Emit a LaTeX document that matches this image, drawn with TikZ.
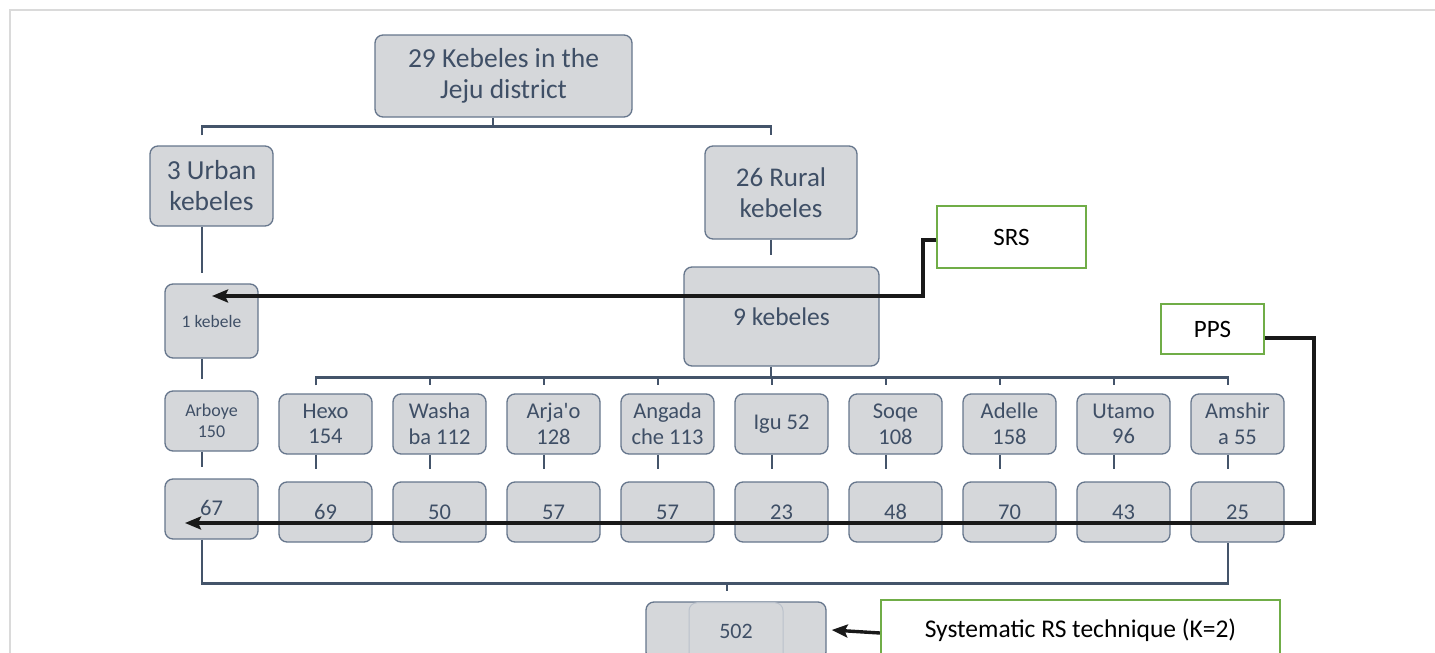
\documentclass[tikz,border=0pt]{standalone}
\usepackage{fontspec}
\setmainfont{Carlito}[Ligatures=TeXOff]
\usetikzlibrary{arrows.meta}
\definecolor{txt}{HTML}{3F4F66}
\definecolor{boxfill}{HTML}{D5D7DA}
\definecolor{boxline}{HTML}{66768C}
\definecolor{conn}{HTML}{44546A}
\definecolor{grn}{HTML}{70AD47}
\definecolor{framec}{HTML}{DADADA}
\tikzset{
  gbox/.style={draw=boxline, fill=boxfill, rounded corners=8pt, line width=1.3pt,
    text=txt, align=center, inner sep=0pt},
  greenbox/.style={draw=grn, fill=white, line width=2.2pt, text=black, align=center, inner sep=0pt},
  conline/.style={draw=conn, line width=2.6pt},
  arr/.style={draw=black!90, line width=3.4pt, -{Stealth[length=16pt,width=13pt,inset=3pt]}},
  bigtxt/.style={font=\fontsize{27.5}{31}\selectfont},
  midtxt/.style={font=\fontsize{22.5}{25.7}\selectfont},
}
\begin{document}
\begin{tikzpicture}[x=1pt,y=-1pt]
\useasboundingbox (0,0) rectangle (1435,653);
\draw[framec, line width=2pt] (10,653) -- (10,10) -- (1435,10);

% level 1-3
\node[gbox,bigtxt,minimum width=257pt,minimum height=82pt] (top) at (503.5,76) {29 Kebeles in the\\Jeju district};
\node[gbox,bigtxt,minimum width=123pt,minimum height=80pt] (urban) at (211.5,186) {3 Urban\\kebeles};
\node[gbox,font=\fontsize{27}{31}\selectfont,minimum width=152pt,minimum height=93pt] (rural) at (781,192.5) {26 Rural\\kebeles};
\node[gbox,font=\fontsize{25.5}{30}\selectfont,minimum width=195pt,minimum height=99pt] (nine) at (781.5,316.5) {9 kebeles};
\node[gbox,font=\fontsize{17.5}{21}\selectfont,minimum width=93pt,minimum height=74pt] (one) at (211.5,321) {1 kebele};

\node[greenbox,font=\fontsize{25}{30}\selectfont,minimum width=149pt,minimum height=62pt] (srs) at (1011.5,237) {SRS};
\node[greenbox,font=\fontsize{25}{30}\selectfont,minimum width=103pt,minimum height=50pt] (pps) at (1212.5,329) {PPS};

% name row
\node[gbox,font=\fontsize{18}{20.7}\selectfont,minimum width=93pt,minimum height=60pt] (arb) at (211.5,421) {Arboye\\150};
\foreach \nm/\x/\t in {hexo/325.5/{Hexo\\154}, washa/439.5/{Washa\\ba 112}, arja/553.5/{Arja'o\\128},
  anga/667.5/{Angada\\che 113}, igu/781.5/{Igu 52}, soqe/895.5/{Soqe\\108}, adel/1009.5/{Adelle\\158},
  utam/1123.5/{Utamo\\96}, amsh/1237.5/{Amshir\\a 55}}{
  \node[gbox,midtxt,minimum width=93pt,minimum height=60pt] (\nm) at (\x,424) {\t};
}
% count row
\node[gbox,midtxt,minimum width=93pt,minimum height=60pt] (c67) at (211.5,509) {\raisebox{3pt}{67}};
\foreach \nm/\x/\t in {c69/325.5/69, c50/439.5/50, c57a/553.5/57, c57b/667.5/57, c23/781.5/23,
  c48/895.5/48, c70/1009.5/70, c43/1123.5/43, c25/1237.5/25}{
  \node[gbox,midtxt,minimum width=93pt,minimum height=60pt] (\nm) at (\x,512) {\t};
}

% 502 box
\node[gbox,font=\fontsize{22}{26}\selectfont,minimum width=180pt,minimum height=58pt] (n502) at (736,631) {};
\draw[boxline!45, line width=1pt, rounded corners=8pt] (689,653) -- (689,602.7) -- (783,602.7) -- (783,653);
\node[text=txt,font=\fontsize{22}{26}\selectfont,inner sep=0pt] (t502) at (736,631) {502};

\node[greenbox,font=\fontsize{25.5}{30}\selectfont,minimum width=399pt,minimum height=60pt] (sys) at (1080.5,630) {\raisebox{3pt}{Systematic RS technique (K=2)}};

% connectors
\draw[conline] ([xshift=-10.5pt]top.south) -- ++(0,10);
\draw[conline] ([xshift=-9.5pt,yshift=10pt]urban.north) |- ([xshift=-10pt,yshift=19pt]rural.north) -- ([xshift=-10pt,yshift=10pt]rural.north);
\draw[conline] ([xshift=-9.5pt]urban.south) -- ([xshift=-9.5pt,yshift=10pt]one.north);
\draw[conline] ([xshift=-10pt]rural.south) -- ([xshift=-10.5pt,yshift=11pt]nine.north);
\draw[conline] ([xshift=-9.5pt]one.south) -- ([xshift=-9.5pt,yshift=11pt]arb.north);
\draw[conline] ([xshift=-10.5pt]nine.south) -- ++(0,12);
\draw[conline] ([xshift=-9.5pt,yshift=8pt]hexo.north) |- ([xshift=-9.5pt,yshift=16pt]amsh.north) -- ([xshift=-9.5pt,yshift=8pt]amsh.north);
\foreach \nm in {washa,arja,anga,igu,soqe,adel,utam}{
  \draw[conline] ([xshift=-9.5pt,yshift=16pt]\nm.north) -- ([xshift=-9.5pt,yshift=8pt]\nm.north);
}
\draw[conline] ([xshift=-9.5pt]arb.south) -- ([xshift=-9.5pt,yshift=11pt]c67.north);
\foreach \a/\b in {hexo/c69, washa/c50, arja/c57a, anga/c57b, igu/c23, soqe/c48, adel/c70, utam/c43, amsh/c25}{
  \draw[conline] ([xshift=-9.5pt]\a.south) -- ([xshift=-9.5pt,yshift=12pt]\b.north);
}
\draw[conline] ([xshift=-9.5pt]c67.south) |- ([xshift=-9.5pt,yshift=-41pt]c25.south) -- ([xshift=-9.5pt]c25.south);
\draw[conline] (727,583) -- ([xshift=-9pt,yshift=10pt]n502.north);

% sampling arrows
\coordinate (srsend) at (212,296);
\coordinate (ppsend) at (185,523);
\draw[arr] ([yshift=-3pt]srs.west) -- (923,240) |- (srsend);
\draw[arr] ([yshift=-9pt]pps.east) -| (1314,523) -- (ppsend);
\draw[arr] ([yshift=-3pt]sys.west) -- ([xshift=5pt,yshift=1pt]n502.east);
\end{tikzpicture}
\end{document}
